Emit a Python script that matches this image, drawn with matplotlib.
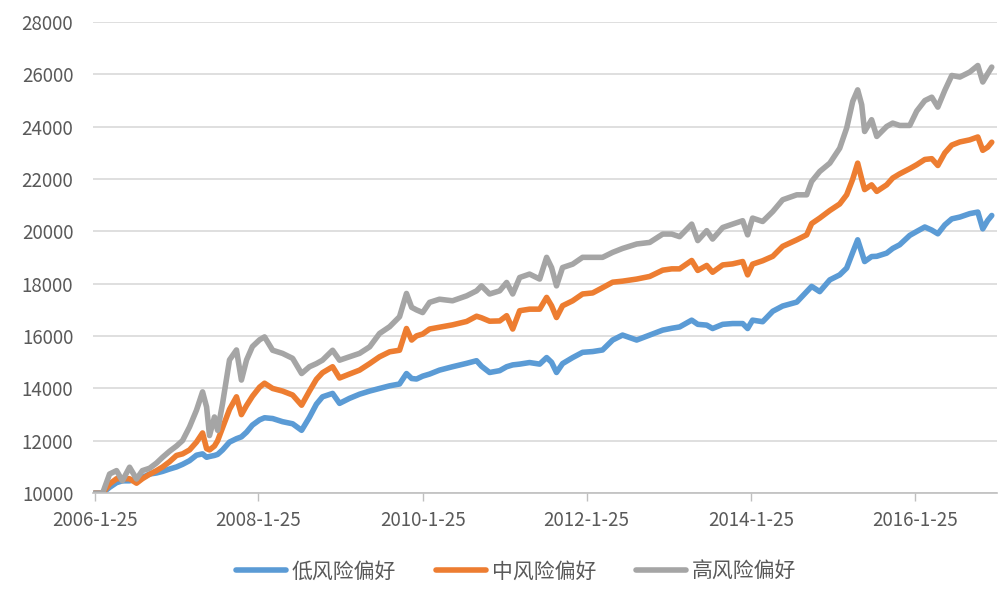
import matplotlib
matplotlib.use('Agg')
import matplotlib.pyplot as plt
import pandas as pd

plt.rcParams['font.family'] = ['Noto Sans CJK SC', 'DejaVu Sans']

# --- data ---
dates = [
    '2006-01-25', '2006-03-02', '2006-04-02', '2006-05-03', '2006-05-29', '2006-06-30',
    '2006-07-31', '2006-08-26', '2006-09-27', '2006-10-28', '2006-11-24', '2006-12-25',
    '2007-01-25', '2007-02-21', '2007-03-24', '2007-04-24', '2007-05-21', '2007-06-08',
    '2007-06-21', '2007-07-13', '2007-07-27', '2007-08-18', '2007-09-18', '2007-10-19',
    '2007-11-10', '2007-12-03', '2007-12-29', '2008-01-30', '2008-02-21', '2008-03-28',
    '2008-05-11', '2008-06-25', '2008-08-04', '2008-09-08', '2008-10-09', '2008-11-05',
    '2008-12-20', '2009-01-20', '2009-03-05', '2009-04-19', '2009-06-03', '2009-07-17',
    '2009-08-31', '2009-10-14', '2009-11-14', '2009-12-07', '2009-12-29', '2010-01-25',
    '2010-02-25', '2010-04-10', '2010-06-07', '2010-08-09', '2010-09-22', '2010-10-14',
    '2010-11-19', '2011-01-03', '2011-02-03', '2011-03-02', '2011-04-02', '2011-05-16',
    '2011-06-30', '2011-07-31', '2011-08-22', '2011-09-13', '2011-10-10', '2011-11-24',
    '2012-01-07', '2012-02-21', '2012-04-05', '2012-05-20', '2012-07-03', '2012-09-04',
    '2012-11-01', '2012-12-29', '2013-02-07', '2013-03-14', '2013-05-07', '2013-06-03',
    '2013-07-13', '2013-08-08', '2013-09-22', '2013-11-05', '2013-12-20', '2014-01-11',
    '2014-02-02', '2014-03-19', '2014-05-03', '2014-06-16', '2014-08-18', '2014-10-01',
    '2014-10-23', '2014-11-28', '2015-01-12', '2015-02-25', '2015-03-28', '2015-04-24',
    '2015-05-16', '2015-06-03', '2015-06-16', '2015-07-17', '2015-08-09', '2015-09-22',
    '2015-10-19', '2015-11-19', '2016-01-03', '2016-02-03', '2016-03-10', '2016-04-10',
    '2016-05-07', '2016-06-07', '2016-07-08', '2016-08-13', '2016-09-26', '2016-11-01',
    '2016-11-23', '2016-12-15', '2017-01-02',
]

low_risk = [
    10000, 10000, 10220, 10400, 10470, 10470, 10540, 10600, 10730, 10770, 10830, 10920,
    11000, 11100, 11240, 11450, 11500, 11370, 11400, 11440, 11480, 11650, 11950, 12080,
    12150, 12330, 12600, 12800, 12880, 12850, 12730, 12650, 12400, 12900, 13400, 13680,
    13810, 13430, 13620, 13780, 13900, 14000, 14100, 14170, 14570, 14380, 14360, 14470,
    14550, 14700, 14830, 14960, 15060, 14850, 14610, 14680, 14830, 14900, 14930, 14990,
    14930, 15180, 15000, 14610, 14950, 15180, 15380, 15410, 15470, 15850, 16040, 15850,
    16040, 16230, 16300, 16350, 16610, 16450, 16420, 16290, 16450, 16480, 16480, 16290,
    16610, 16550, 16950, 17150, 17300, 17700, 17900, 17700, 18150, 18340, 18600, 19200,
    19680, 19200, 18850, 19040, 19050, 19170, 19350, 19490, 19850, 20000, 20170, 20050,
    19910, 20250, 20480, 20550, 20680, 20740, 20100, 20420, 20610,
]

mid_risk = [
    10000, 10000, 10350, 10550, 10550, 10550, 10380, 10550, 10720, 10860, 11000, 11200,
    11440, 11500, 11650, 11950, 12300, 11700, 11650, 11800, 12000, 12500, 13200, 13680,
    13000, 13350, 13700, 14050, 14200, 14000, 13900, 13750, 13360, 13900, 14350, 14600,
    14830, 14400, 14550, 14700, 14950, 15210, 15400, 15460, 16290, 15850, 16010, 16080,
    16270, 16340, 16430, 16560, 16760, 16700, 16570, 16580, 16780, 16270, 16970, 17030,
    17030, 17480, 17160, 16710, 17160, 17350, 17610, 17650, 17850, 18060, 18100, 18180,
    18280, 18520, 18570, 18570, 18890, 18510, 18700, 18440, 18720, 18760, 18850, 18340,
    18750, 18880, 19050, 19430, 19680, 19870, 20300, 20510, 20800, 21050, 21400, 22000,
    22610, 22000, 21600, 21780, 21530, 21780, 22040, 22200, 22400, 22550, 22750, 22780,
    22520, 23000, 23300, 23420, 23500, 23610, 23100, 23220, 23410,
]

high_risk = [
    10000, 10000, 10730, 10860, 10470, 10990, 10540, 10860, 10950, 11150, 11370, 11600,
    11800, 12010, 12530, 13170, 13870, 13290, 12200, 12910, 12400, 13420, 15090, 15470,
    14320, 15090, 15600, 15860, 15970, 15460, 15340, 15150, 14570, 14830, 14950, 15080,
    15460, 15080, 15210, 15340, 15590, 16100, 16360, 16740, 17630, 17100, 17000, 16900,
    17290, 17410, 17350, 17540, 17730, 17920, 17610, 17730, 18050, 17610, 18240, 18370,
    18180, 19010, 18620, 17920, 18620, 18750, 19010, 19010, 19010, 19200, 19350, 19520,
    19580, 19900, 19900, 19800, 20280, 19650, 20030, 19710, 20150, 20280, 20410, 19870,
    20510, 20380, 20760, 21210, 21400, 21400, 21910, 22290, 22610, 23180, 23950, 24970,
    25410, 24840, 23820, 24270, 23630, 24010, 24140, 24050, 24050, 24600, 25000, 25130,
    24750, 25390, 25960, 25900, 26090, 26340, 25710, 26030, 26280,
]

series_names = ['低风险偏好', '中风险偏好', '高风险偏好']
tick_dates = ['2006-01-25', '2008-01-25', '2010-01-25', '2012-01-25', '2014-01-25', '2016-01-25']
tick_labels = ['2006-1-25', '2008-1-25', '2010-1-25', '2012-1-25', '2014-1-25', '2016-1-25']
y_ticks = [10000, 12000, 14000, 16000, 18000, 20000, 22000, 24000, 26000, 28000]

COLORS = ['#5B9BD5', '#ED7D31', '#A5A5A5']
TEXT_COLOR = '#595959'

df = pd.DataFrame({
    series_names[0]: low_risk,
    series_names[1]: mid_risk,
    series_names[2]: high_risk,
}, index=pd.to_datetime(dates))

fig = plt.figure(figsize=(10.08, 5.97), dpi=100)
ax = fig.add_axes([0.092, 0.174, 0.897, 0.789])

for name, color in zip(series_names, COLORS):
    ax.plot(df.index, df[name], color=color, linewidth=4.0,
            solid_joinstyle='round', solid_capstyle='round', label=name)

ax.set_ylim(10000, 28000)
ax.set_yticks(y_ticks)
ax.set_xlim(pd.Timestamp('2006-01-17'), pd.Timestamp('2017-01-25'))
ax.set_xticks(pd.to_datetime(tick_dates))
ax.set_xticklabels(tick_labels)

ax.grid(True, axis='y', color='#D9D9D9', linewidth=1.2)
ax.set_axisbelow(True)
for side in ['top', 'right', 'left']:
    ax.spines[side].set_visible(False)
ax.spines['bottom'].set_color('#BFBFBF')
ax.spines['bottom'].set_linewidth(1.2)

ax.tick_params(axis='y', length=0, pad=14, labelsize=13.5, labelcolor=TEXT_COLOR)
ax.tick_params(axis='x', length=6, width=1.0, color='#BFBFBF', pad=6,
               labelsize=13.5, labelcolor=TEXT_COLOR)

leg = fig.legend(*ax.get_legend_handles_labels(), loc='center',
                 bbox_to_anchor=(0.512, 0.043), ncol=3,
                 frameon=False, fontsize=15, handlelength=2.4, columnspacing=1.9,
                 handletextpad=0.3)
for text in leg.get_texts():
    text.set_color(TEXT_COLOR)
for line in leg.get_lines():
    line.set_linewidth(4.0)

fig.savefig('out.png', dpi=100)
